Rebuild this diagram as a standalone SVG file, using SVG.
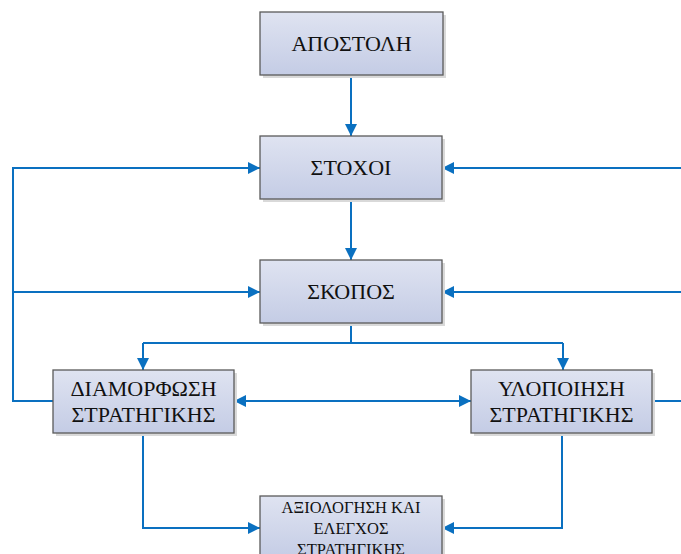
<svg xmlns="http://www.w3.org/2000/svg" width="681" height="554" viewBox="0 0 681 554">
<defs>
<linearGradient id="g" x1="0" y1="0" x2="0" y2="1">
<stop offset="0" stop-color="#dfe3f1"/>
<stop offset="1" stop-color="#c4cce5"/>
</linearGradient>
<marker id="ah" viewBox="0 0 10 10" refX="10" refY="5" markerWidth="12" markerHeight="12" markerUnits="userSpaceOnUse" orient="auto-start-reverse">
<path d="M0,0 L10,5 L0,10 Z" fill="#0a70c0"/>
</marker>
</defs>
<style>
.box{fill:url(#g);stroke:#5a5a5a;stroke-width:1.3}
.sh{fill:#d9d9d9}
.t{font-family:"Liberation Serif","Times New Roman",serif;fill:#111;text-anchor:middle}
.big{font-size:22px}
.sm{font-size:16.5px}
.c{fill:none;stroke:#0a70c0;stroke-width:2}
</style>
<g id="connectors">
<path class="c" d="M351,75 V136" marker-end="url(#ah)"/>
<path class="c" d="M351,199 V260" marker-end="url(#ah)"/>
<path class="c" d="M351,323 V343 M143,343 H563"/>
<path class="c" d="M143,343 V370" marker-end="url(#ah)"/>
<path class="c" d="M563,343 V370" marker-end="url(#ah)"/>
<path class="c" d="M53,401 H13 V168 H260" marker-end="url(#ah)"/>
<path class="c" d="M13,292 H260" marker-end="url(#ah)"/>
<path class="c" d="M681,168 H442" marker-end="url(#ah)"/>
<path class="c" d="M681,292 H442" marker-end="url(#ah)"/>
<path class="c" d="M652,401 H681"/>
<path class="c" d="M234,401 H471" marker-start="url(#ah)" marker-end="url(#ah)"/>
<path class="c" d="M143,433 V528 H260" marker-end="url(#ah)"/>
<path class="c" d="M562,433 V528 H442" marker-end="url(#ah)"/>
</g>
<g id="apostoli">
<rect class="sh" x="263" y="15" width="183" height="63"/>
<rect class="box" x="260" y="12" width="183" height="63"/>
<text class="t big" x="351.5" y="51">ΑΠΟΣΤΟΛΗ</text>
</g>
<g id="stoxoi">
<rect class="sh" x="263" y="139" width="182" height="63"/>
<rect class="box" x="260" y="136" width="182" height="63"/>
<text class="t big" x="351" y="175">ΣΤΟΧΟΙ</text>
</g>
<g id="skopos">
<rect class="sh" x="263" y="263" width="182" height="63"/>
<rect class="box" x="260" y="260" width="182" height="63"/>
<text class="t big" x="351" y="299">ΣΚΟΠΟΣ</text>
</g>
<g id="diamorfosi">
<rect class="sh" x="56" y="373" width="181" height="63"/>
<rect class="box" x="53" y="370" width="181" height="63"/>
<text class="t big" x="143.5" y="396">ΔΙΑΜΟΡΦΩΣΗ</text>
<text class="t big" x="143.5" y="422">ΣΤΡΑΤΗΓΙΚΗΣ</text>
</g>
<g id="ylopoiisi">
<rect class="sh" x="474" y="373" width="181" height="63"/>
<rect class="box" x="471" y="370" width="181" height="63"/>
<text class="t big" x="561.5" y="396">ΥΛΟΠΟΙΗΣΗ</text>
<text class="t big" x="561.5" y="422">ΣΤΡΑΤΗΓΙΚΗΣ</text>
</g>
<g id="axiologisi">
<rect class="sh" x="263" y="499" width="182" height="63"/>
<rect class="box" x="260" y="496" width="182" height="63"/>
<text class="t sm" x="351" y="513">ΑΞΙΟΛΟΓΗΣΗ ΚΑΙ</text>
<text class="t sm" x="351" y="534">ΕΛΕΓΧΟΣ</text>
<text class="t sm" x="351" y="555">ΣΤΡΑΤΗΓΙΚΗΣ</text>
</g>
</svg>
